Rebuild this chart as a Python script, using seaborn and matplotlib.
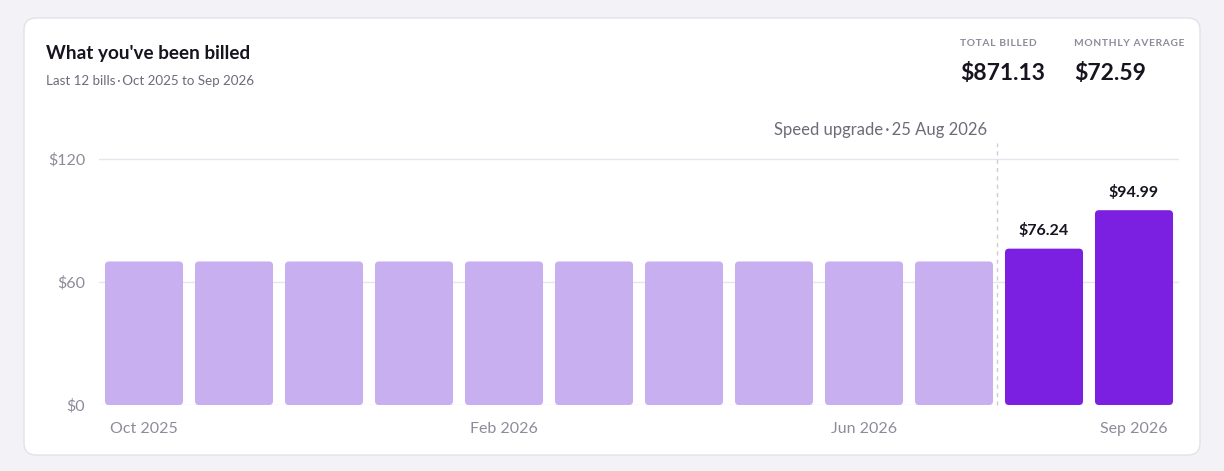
import matplotlib
matplotlib.use("Agg")
import matplotlib.pyplot as plt
from matplotlib.patches import FancyBboxPatch
import seaborn as sns
import pandas as pd

# data
months = ["Oct 2025", "Nov 2025", "Dec 2025", "Jan 2026", "Feb 2026", "Mar 2026",
          "Apr 2026", "May 2026", "Jun 2026", "Jul 2026", "Aug 2026", "Sep 2026"]
amounts = [69.99, 69.99, 69.99, 69.99, 69.99, 69.99,
           69.99, 69.99, 69.99, 69.99, 76.24, 94.99]
after_upgrade = [False] * 10 + [True, True]
shown_ticks = ["Oct 2025", "Feb 2026", "Jun 2026", "Sep 2026"]
y_ticks = [0, 60, 120]
DOT = "\u2009\u00b7\u2009"
upgrade_label = f"Speed upgrade{DOT}25 Aug 2026"

LIGHT = "#c8b0f0"
DARK = "#7b20e0"
INK = "#17131f"
MUTED = "#8f8a99"
GRID = "#e6e4ec"

sns.set_theme(style="white")
plt.rcParams["font.family"] = ["Lato", "DejaVu Sans"]

df = pd.DataFrame({"month": months, "amount": amounts,
                   "group": ["new" if a else "old" for a in after_upgrade]})

fig = plt.figure(figsize=(12.24, 4.71), dpi=100, facecolor="#f3f2f7")

# white card
card = FancyBboxPatch((0.24, 0.16), 11.76, 4.37,
                      boxstyle="round,pad=0,rounding_size=0.12",
                      transform=fig.dpi_scale_trans, facecolor="white",
                      edgecolor="#e3e1e9", linewidth=1.0, zorder=0)
fig.add_artist(card)

ax = fig.add_axes([99 / 1224, 1 - 405 / 471, 1080 / 1224, 262.5 / 471])
ax.set_facecolor("none")

sns.barplot(data=df, x="month", y="amount", hue="group", order=months,
            palette={"old": LIGHT, "new": DARK}, width=0.867, dodge=False,
            saturation=1, legend=False, ax=ax, zorder=3)

ax.set_xlim(-0.5, len(months) - 0.5)
ax.set_ylim(0, 128)

# swap plain bars for rounded ones
px_x = 1080 / 12
px_y = 262.5 / 128
r = 4 / px_x
for p in list(ax.patches):
    x0, y0 = p.get_x(), p.get_y()
    w, h = p.get_width(), p.get_height()
    if h <= 0:
        continue
    rb = FancyBboxPatch((x0, y0), w, h,
                        boxstyle=f"round,pad=0,rounding_size={r}",
                        mutation_aspect=(4 / px_y) / r,
                        facecolor=p.get_facecolor(), edgecolor="none", zorder=3)
    p.remove()
    ax.add_patch(rb)

# gridlines
for v in y_ticks:
    ax.axhline(v, color=GRID, lw=1.0, zorder=1)

ax.set_yticks(y_ticks)
ax.set_yticklabels([f"${v}" for v in y_ticks], color=MUTED, fontsize=11.5)
ax.set_xticks(range(len(months)))
ax.set_xticklabels([m if m in shown_ticks else "" for m in months],
                   color=MUTED, fontsize=11.5)
ax.tick_params(axis="both", length=0)
ax.tick_params(axis="y", pad=10)
ax.tick_params(axis="x", pad=12)
ax.set_xlabel("")
ax.set_ylabel("")
for s in ax.spines.values():
    s.set_visible(False)

# value labels on upgraded bills
for i, (v, a) in enumerate(zip(amounts, after_upgrade)):
    if a:
        ax.annotate(f"${v:.2f}", (i, v), xytext=(0, 7.5), textcoords="offset points",
                    ha="center", va="bottom", fontsize=11.5, fontweight="bold",
                    color=INK, zorder=5)

# upgrade marker
up_x = after_upgrade.index(True) - 0.52
ax.plot([up_x, up_x], [0, 128], ls=(0, (3, 3)), color="#cfccd6", lw=1.0,
        zorder=2, clip_on=False)
fig.text(987 / 1224, 1 - 130 / 471, upgrade_label, ha="right", va="center",
         fontsize=12, color="#6f6a78")

# header text
fig.text(46 / 1224, 1 - 53 / 471, "What you've been billed", ha="left", va="center",
         fontsize=13.6, fontweight="bold", color=INK)
fig.text(46 / 1224, 1 - 81 / 471, f"Last 12 bills{DOT}Oct 2025 to Sep 2026",
         ha="left", va="center", fontsize=9.6, color="#6f6a78")

total = sum(amounts)
avg = total / len(amounts)
for x_px, cap, val in [(960, "TOTAL BILLED", total), (1074, "MONTHLY AVERAGE", avg)]:
    t = fig.text(x_px / 1224, 1 - 44 / 471, "\u200a".join(cap), ha="left", va="center",
                 fontsize=7.4, color=MUTED, fontweight="bold")
    fig.text(x_px / 1224, 1 - 73 / 471, f"${val:.2f}", ha="left", va="center",
             fontsize=16.5, fontweight="bold", color=INK)

fig.savefig("out.png", dpi=100, facecolor=fig.get_facecolor())
